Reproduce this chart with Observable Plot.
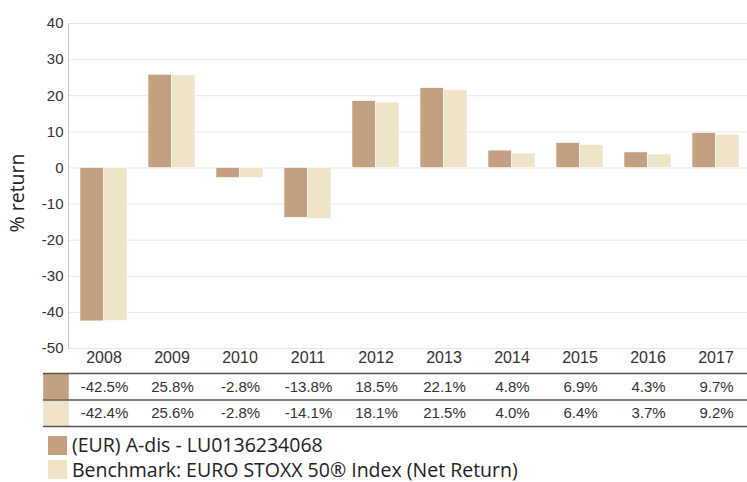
<!DOCTYPE html>
<html>
<head>
<meta charset="utf-8">
<script src="https://cdn.jsdelivr.net/npm/d3@7"></script>
<script src="https://cdn.jsdelivr.net/npm/@observablehq/plot@0.6"></script>
<style>
  body { margin: 0; background: #fff; }
  #wrap { width: 747px; height: 482px; overflow: hidden; position: relative; }
  svg { display: block; }
  .legend { position: absolute; left: 48px; top: 433px; font-family: "Open Sans", sans-serif; font-size: 19.5px; color: #222; }
  .legend .row { display: flex; align-items: center; height: 24.5px; line-height: 24px; white-space: nowrap; }
  .legend .sw { width: 19px; height: 19px; margin-right: 5px; flex: none; }
</style>
</head>
<body>
<div id="wrap"></div>
<script>
const years = ["2008","2009","2010","2011","2012","2013","2014","2015","2016","2017"];
const fundValues = [-42.5, 25.8, -2.8, -13.8, 18.5, 22.1, 4.8, 6.9, 4.3, 9.7];
const benchValues = [-42.4, 25.6, -2.8, -14.1, 18.1, 21.5, 4.0, 6.4, 3.7, 9.2];
const seriesNames = ["(EUR) A-dis - LU0136234068", "Benchmark: EURO STOXX 50® Index (Net Return)"];
const seriesColors = ["#C4A080", "#EFE3C8"];
const yTicks = [-50, -40, -30, -20, -10, 0, 10, 20, 30, 40];
const yTitle = "% return";

const fundData = years.map((y, i) => ({year: y, value: fundValues[i]}));
const benchData = years.map((y, i) => ({year: y, value: benchValues[i]}));
const xScale = {domain: years, range: [68, 751], paddingInner: 0.31, paddingOuter: 0.176};

const chart = Plot.plot({
  width: 747,
  height: 370,
  marginLeft: 68,
  marginRight: 0,
  marginTop: 23,
  marginBottom: 22,
  style: {fontFamily: "'Liberation Sans', Arial, sans-serif", fontSize: "15px", color: "#333", background: "#fff"},
  x: {...xScale, label: null},
  y: {domain: [-50, 40], label: null},
  marks: [
    Plot.ruleY(yTicks, {stroke: "#e6e6e6", strokeWidth: 1}),
    Plot.frame({anchor: "left", stroke: "#c8c8c8"}),
    Plot.barY(fundData, {x: "year", y: "value", fill: seriesColors[0], insetRight: 23.5, stroke: "#fff", strokeWidth: 0.6}),
    Plot.barY(benchData, {x: "year", y: "value", fill: seriesColors[1], insetLeft: 23.5, stroke: "#fff", strokeWidth: 0.6}),
    Plot.axisY({ticks: yTicks, tickSize: 0, tickPadding: 5, fontSize: 15, fill: "#333", label: null, tickFormat: d => String(d)}),
    Plot.axisX({tickSize: 0, tickPadding: 3, fontSize: 16, fill: "#333", label: null}),
    Plot.text([yTitle], {text: d => d, frameAnchor: "left", textAnchor: "middle", rotate: -90, dx: -51, dy: 7, fontSize: 19.5, fontFamily: "'Open Sans', sans-serif", fill: "#222", lineAnchor: "middle"})
  ]
});

const tableRows = [];
years.forEach((y, i) => {
  tableRows.push({year: y, row: 0.5, text: fundValues[i].toFixed(1) + "%"});
  tableRows.push({year: y, row: 1.5, text: benchValues[i].toFixed(1) + "%"});
});

const table = Plot.plot({
  width: 747,
  height: 60,
  marginLeft: 43,
  marginRight: 0,
  marginTop: 0,
  marginBottom: 0,
  style: {fontFamily: "'Liberation Sans', Arial, sans-serif", fontSize: "15px", background: "#fff"},
  x: {...xScale, axis: null},
  y: {domain: [0, 2], range: [3, 56], axis: null},
  marks: [
    Plot.dot([0.5, 1.5], {y: d => d, frameAnchor: "left", dx: 12.5, symbol: "square", r: 14.4, fill: (d, i) => seriesColors[i]}),
    Plot.ruleY([0, 1, 2], {stroke: "#555", strokeWidth: 1.5}),
    Plot.text(tableRows, {x: "year", y: "row", text: "text", fill: "#333", fontSize: 15})
  ]
});

const wrap = document.getElementById("wrap");
wrap.appendChild(chart);
wrap.appendChild(table);

const legend = document.createElement("div");
legend.className = "legend";
seriesNames.forEach((name, i) => {
  const row = document.createElement("div");
  row.className = "row";
  const sw = document.createElement("span");
  sw.className = "sw";
  sw.style.background = seriesColors[i];
  const label = document.createElement("span");
  label.textContent = name;
  row.appendChild(sw);
  row.appendChild(label);
  legend.appendChild(row);
});
wrap.appendChild(legend);
</script>
</body>
</html>
